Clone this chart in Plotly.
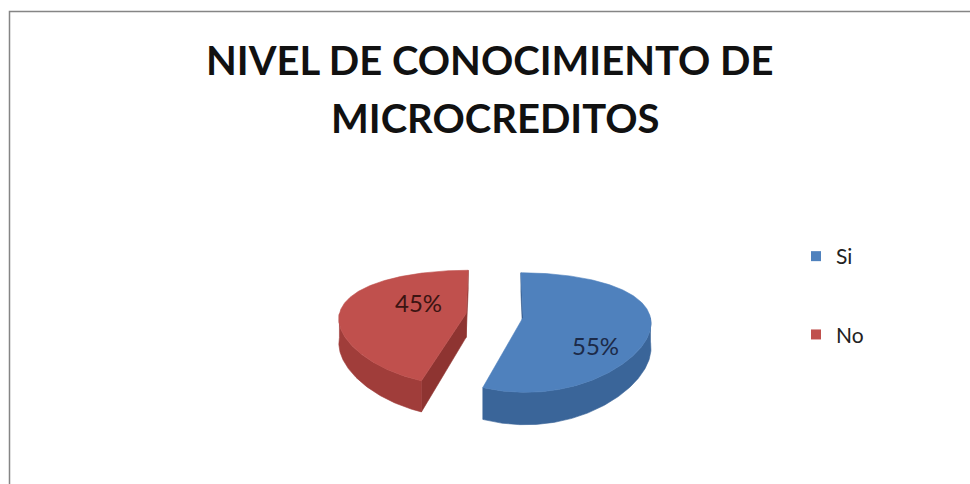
import numpy as np
import plotly.graph_objects as go

# ---- data ----
categories = ["Si", "No"]
values = [55, 45]
title_lines = ["NIVEL DE CONOCIMIENTO DE", "MICROCREDITOS"]

# ---- styles ----
top_colors = ["#4f81bd", "#c0504d"]
side_colors = ["#3a6599", "#a03d3a"]
cut_colors = ["#315789", "#8e3431"]
label_colors = ["#1c2a48", "#3b1412"]
FONT = "Lato"

# ---- 3D pie projection (pixel space) ----
CX, CY = 494.5, 315.5      # screen position of the pie centre
RX, RY = 127.0, 55.0       # horizontal / vertical radius of the top face
DEPTH = 24.0               # thickness of the pie
KX, KY = 0.08, 0.25        # perspective strength
EXPLODE = 0.227            # slice pull-out (fraction of radius)
START = 90.0               # first slice starts at 12 o'clock, goes clockwise
CAMERA = (0.0, -1.0 / KX)  # viewer position in pie-plane coordinates
# label anchor per slice: (distance from slice tip, angle offset from mid-angle)
LABEL_ANCHOR = [(0.70, -30.0), (0.44, -19.0)]


def proj(X, Z, drop=0.0):
    X = np.asarray(X, dtype=float)
    Z = np.asarray(Z, dtype=float)
    sx = 1.0 / (1.0 + KX * Z)
    sy = 1.0 / (1.0 + KY * Z)
    return CX + RX * X * sx, CY - RY * Z * sy + DEPTH * drop * sy


def poly(xs, ys, color, name, legendgroup):
    return go.Scatter(
        x=list(xs) + [xs[0]], y=list(ys) + [ys[0]],
        mode="lines", fill="toself", fillcolor=color,
        line=dict(width=0.6, color=color), hoverinfo="skip",
        showlegend=False, name=name, legendgroup=legendgroup,
    )


fig = go.Figure()
total = float(sum(values))
cum = 0.0
label_annotations = []

for i, (cat, val) in enumerate(zip(categories, values)):
    a0 = START - 360.0 * cum / total
    a1 = a0 - 360.0 * val / total
    cum += val
    mid = np.radians((a0 + a1) / 2.0)
    ox, oz = EXPLODE * np.cos(mid), EXPLODE * np.sin(mid)

    th = np.radians(np.linspace(a0, a1, 240))
    rimX, rimZ = ox + np.cos(th), oz + np.sin(th)

    traces = []
    # radial cut faces
    for edge, sign in ((a0, 1.0), (a1, -1.0)):
        e = np.radians(edge)
        nrm = np.radians(edge + sign * 90.0)
        px, pz = ox + 0.5 * np.cos(e), oz + 0.5 * np.sin(e)
        vis = np.cos(nrm) * (CAMERA[0] - px) + np.sin(nrm) * (CAMERA[1] - pz)
        if vis > 0:
            Xs = [ox, ox + np.cos(e)]
            Zs = [oz, oz + np.sin(e)]
            tx, ty = proj(Xs, Zs)
            bx, by = proj(Xs, Zs, 1.0)
            traces.append(poly([tx[0], tx[1], bx[1], bx[0]],
                               [ty[0], ty[1], by[1], by[0]],
                               cut_colors[i], cat, cat))

    # outer wall, only the part facing the viewer
    front = np.sin(th) < 1e-9
    runs, cur = [], []
    for k, f in enumerate(front):
        if f:
            cur.append(k)
        elif cur:
            runs.append(cur)
            cur = []
    if cur:
        runs.append(cur)
    for run in runs:
        if len(run) < 2:
            continue
        tx, ty = proj(rimX[run], rimZ[run])
        bx, by = proj(rimX[run], rimZ[run], 1.0)
        traces.append(poly(np.concatenate([tx, bx[::-1]]),
                           np.concatenate([ty, by[::-1]]),
                           side_colors[i], cat, cat))

    # top face
    tx, ty = proj(np.concatenate([[ox], rimX]), np.concatenate([[oz], rimZ]))
    traces.append(poly(tx, ty, top_colors[i], cat, cat))
    for t in traces:
        fig.add_trace(t)

    # percentage label
    dist, doff = LABEL_ANCHOR[i]
    la = mid + np.radians(doff)
    lx, ly = proj(ox + dist * np.cos(la), oz + dist * np.sin(la))
    label_annotations.append(dict(
        x=float(lx), y=float(ly), xref="x", yref="y",
        text=f"{100.0 * val / total:.0f}%", showarrow=False,
        font=dict(family=FONT, size=24, color=label_colors[i]),
    ))

# legend entries
for i, cat in enumerate(categories):
    fig.add_trace(go.Scatter(
        x=[None], y=[None], mode="markers", name=cat, legendgroup=cat,
        marker=dict(symbol="square", size=10, color=top_colors[i]),
        showlegend=True,
    ))

# title, two lines
title_ann = [
    dict(x=490, y=60, xref="x", yref="y", text=f"<b>{title_lines[0]}</b>",
         showarrow=False, font=dict(family=FONT, size=40, color="#111111")),
    dict(x=495, y=118, xref="x", yref="y", text=f"<b>{title_lines[1]}</b>",
         showarrow=False, font=dict(family=FONT, size=40, color="#111111")),
]

fig.update_layout(
    width=970, height=484, autosize=False,
    margin=dict(l=0, r=0, t=0, b=0),
    paper_bgcolor="white", plot_bgcolor="white",
    xaxis=dict(range=[0, 970], visible=False, fixedrange=True),
    yaxis=dict(range=[484, 0], visible=False, fixedrange=True),
    showlegend=True,
    legend=dict(
        x=796 / 970, y=1 - 236 / 484, xanchor="left", yanchor="top",
        font=dict(family=FONT, size=21, color="#222222"),
        tracegroupgap=48, bgcolor="rgba(0,0,0,0)",
        itemclick=False, itemdoubleclick=False,
    ),
    annotations=title_ann + label_annotations,
    shapes=[dict(type="rect", xref="x", yref="y", x0=9.5, y0=11.5,
                 x1=990, y1=500, line=dict(color="#858585", width=1.5),
                 fillcolor="rgba(0,0,0,0)", layer="above")],
)

fig.write_html("out.html")
